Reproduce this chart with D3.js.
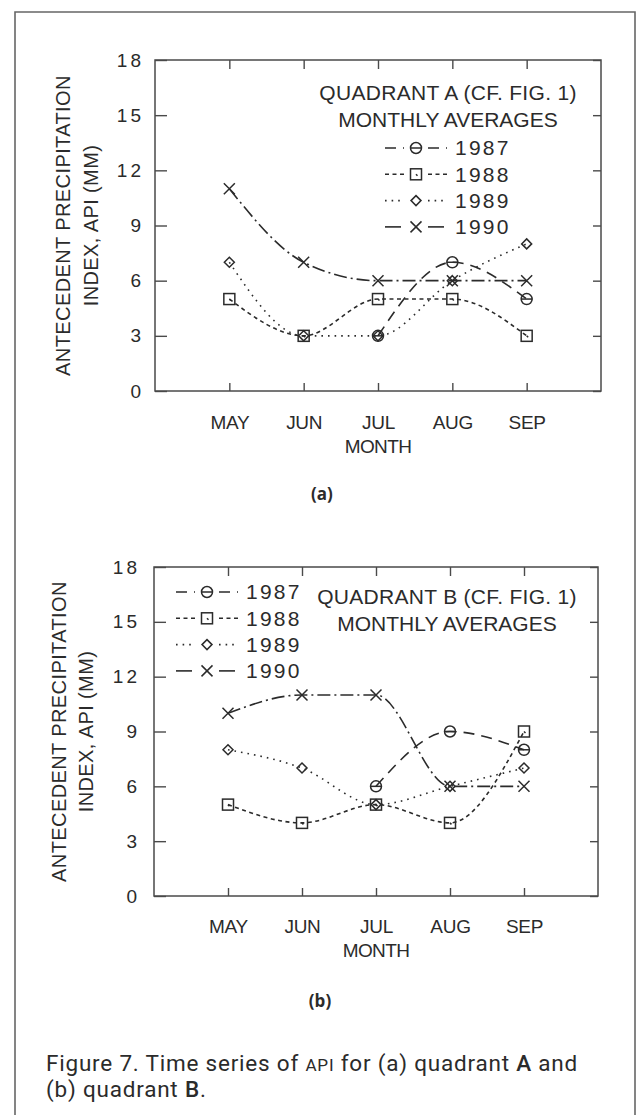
<!DOCTYPE html>
<html lang="en">
<head>
<meta charset="UTF-8">
<title>Figure 7</title>
<script src="https://d3js.org/d3.v7.min.js"></script>
<style>
  body { margin: 0; background: #fff; }
  text { fill: #2b2b2b; }
</style>
</head>
<body>
<script>

// data
var months = ['MAY', 'JUN', 'JUL', 'AUG', 'SEP'];
var years = ['1987', '1988', '1989', '1990'];
var yTicks = [0, 3, 6, 9, 12, 15, 18];

var quadA1987 = [null, null, 3, 7, 5];
var quadA1988 = [5, 3, 5, 5, 3];
var quadA1989 = [7, 3, 3, 6, 8];
var quadA1990 = [11, 7, 6, 6, 6];

var quadB1987 = [null, null, 6, 9, 8];
var quadB1988 = [5, 4, 5, 4, 9];
var quadB1989 = [8, 7, 5, 6, 7];
var quadB1990 = [10, 11, 11, 6, 6];

var ink = '#2b2b2b';
var axisInk = '#4a4a4a';
var font = '"Liberation Sans", Arial, sans-serif';

// dash pattern and marker for each year
var styles = {
    '1987': { dash: '11,7', marker: 'circle' },
    '1988': { dash: '4,3.5', marker: 'square' },
    '1989': { dash: '1.6,5', marker: 'diamond' },
    '1990': { dash: '13,4,2,4', marker: 'cross' }
};

var svg = d3.select('body').append('svg')
    .attr('width', 640)
    .attr('height', 1115);

// page frame (no bottom edge visible)
svg.append('path')
    .attr('d', 'M15,1118 L15,12 L635,12 L635,1118')
    .attr('fill', 'none')
    .attr('stroke', '#666')
    .attr('stroke-width', 1.6);

function drawMarker(g, type) {
    if (type === 'circle') {
        g.append('circle').attr('r', 5.5);
        g.append('line').attr('x1', -5.5).attr('x2', 5.5);
    } else if (type === 'square') {
        g.append('rect').attr('x', -5.5).attr('y', -5.5).attr('width', 11).attr('height', 11);
        g.append('line').attr('x1', 0).attr('x2', 1.5).attr('y1', 0).attr('y2', 1.5);
    } else if (type === 'diamond') {
        g.append('path').attr('d', 'M0,-5 L5,0 L0,5 L-5,0 Z');
    } else {
        g.append('path').attr('d', 'M-5.5,-5.5 L5.5,5.5 M-5.5,5.5 L5.5,-5.5');
    }
    g.selectAll('*')
        .attr('fill', 'none')
        .attr('stroke', ink)
        .attr('stroke-width', 1.5);
}

function drawPanel(p) {
    var x = d3.scalePoint().domain(months).range([p.x0, p.x1]).padding(1);
    var y = d3.scaleLinear().domain([0, 18]).range([p.y1, p.y0]);

    var g = svg.append('g');

    // axes with inward ticks
    var left = g.append('g').attr('transform', 'translate(' + p.x0 + ',0)')
        .call(d3.axisLeft(y).tickValues(yTicks).tickSizeInner(-12).tickSizeOuter(0).tickPadding(p.tickPad));
    g.append('g').attr('transform', 'translate(' + p.x1 + ',0)')
        .call(d3.axisRight(y).tickValues(yTicks).tickSizeInner(-8).tickSizeOuter(0).tickFormat(''));
    g.append('g').attr('transform', 'translate(0,' + p.y0 + ')')
        .call(d3.axisTop(x).tickSizeInner(-9).tickSizeOuter(0).tickFormat(''));
    var bottom = g.append('g').attr('transform', 'translate(0,' + p.y1 + ')')
        .call(d3.axisBottom(x).tickSizeInner(-8).tickSizeOuter(0));

    g.selectAll('.domain').remove();
    g.selectAll('.tick line').attr('stroke', axisInk).attr('stroke-width', 1.4);

    left.selectAll('text')
        .attr('font-family', font)
        .attr('font-size', 19)
        .attr('letter-spacing', 3)
        .attr('fill', ink);

    bottom.selectAll('text')
        .attr('y', p.monthY - p.y1)
        .attr('dy', '0.35em')
        .attr('font-family', font)
        .attr('font-size', 19)
        .attr('letter-spacing', -0.3)
        .attr('fill', ink);

    g.append('rect')
        .attr('x', p.x0).attr('y', p.y0)
        .attr('width', p.x1 - p.x0).attr('height', p.y1 - p.y0)
        .attr('fill', 'none')
        .attr('stroke', axisInk)
        .attr('stroke-width', 1.5);

    g.append('text')
        .attr('x', x('JUL')).attr('y', p.monthY + 24).attr('dy', '0.35em')
        .attr('text-anchor', 'middle')
        .attr('font-family', font).attr('font-size', 19).attr('letter-spacing', -0.6)
        .text('MONTH');

    // y title, two rotated lines
    [['ANTECEDENT PRECIPITATION', p.yt1], ['INDEX, API (MM)', p.yt2]].forEach(function (t) {
        g.append('text')
            .attr('transform', 'translate(' + t[1] + ',' + (p.y0 + p.y1) / 2 + ') rotate(-90)')
            .attr('text-anchor', 'middle')
            .attr('dy', '0.35em')
            .attr('font-family', font).attr('font-size', 20).attr('letter-spacing', 0.4)
            .text(t[0]);
    });

    // series
    var line = d3.line()
        .defined(function (d) { return d.v !== null; })
        .x(function (d) { return x(d.m); })
        .y(function (d) { return y(d.v); })
        .curve(d3.curveMonotoneX);

    p.series.forEach(function (vals, i) {
        var yr = years[i];
        var pts = months.map(function (m, j) { return { m: m, v: vals[j] }; });
        g.append('path')
            .attr('d', line(pts))
            .attr('fill', 'none')
            .attr('stroke', ink)
            .attr('stroke-width', 1.6)
            .attr('stroke-dasharray', styles[yr].dash);
        pts.filter(function (d) { return d.v !== null; }).forEach(function (d) {
            var mg = g.append('g').attr('transform', 'translate(' + x(d.m) + ',' + y(d.v) + ')');
            drawMarker(mg, styles[yr].marker);
        });
    });

    // legend title
    p.title.forEach(function (t, i) {
        g.append('text')
            .attr('x', p.titleX).attr('y', p.titleY + i * 27).attr('dy', '0.35em')
            .attr('text-anchor', 'middle')
            .attr('font-family', font).attr('font-size', 21).attr('letter-spacing', i === 0 ? 0.3 : 0)
            .text(t);
    });

    // legend rows
    years.forEach(function (yr, i) {
        var ry = p.legY + i * 26.3;
        [[p.legX - 31, p.legX - 12], [p.legX + 12, p.legX + 31]].forEach(function (seg) {
            g.append('line')
                .attr('x1', seg[0]).attr('x2', seg[1])
                .attr('y1', ry).attr('y2', ry)
                .attr('stroke', ink).attr('stroke-width', 1.6)
                .attr('stroke-dasharray', yr === '1990' ? '16,3' : styles[yr].dash);
        });
        var mg = g.append('g').attr('transform', 'translate(' + p.legX + ',' + ry + ')');
        drawMarker(mg, styles[yr].marker);
        g.append('text')
            .attr('x', p.legX + 39).attr('y', ry).attr('dy', '0.35em')
            .attr('font-family', font).attr('font-size', 21).attr('letter-spacing', 2.2)
            .text(yr);
    });

    g.append('text')
        .attr('x', p.tagX).attr('y', p.tagY).attr('dy', '0.35em')
        .attr('text-anchor', 'middle')
        .attr('font-family', '"Open Sans", sans-serif').attr('font-size', 17).attr('font-weight', 700)
        .text(p.tag);
}

drawPanel({
    x0: 155, x1: 601, y0: 60, y1: 391, tickPad: 11,
    yt1: 63, yt2: 91, monthY: 422,
    series: [quadA1987, quadA1988, quadA1989, quadA1990],
    title: ['QUADRANT A (CF. FIG. 1)', 'MONTHLY AVERAGES'],
    titleX: 448, titleY: 93,
    legX: 416, legY: 148,
    tag: '(a)', tagX: 322, tagY: 494
});

drawPanel({
    x0: 154, x1: 598, y0: 567, y1: 896, tickPad: 14,
    yt1: 59, yt2: 86, monthY: 926,
    series: [quadB1987, quadB1988, quadB1989, quadB1990],
    title: ['QUADRANT B (CF. FIG. 1)', 'MONTHLY AVERAGES'],
    titleX: 447, titleY: 597,
    legX: 207, legY: 592,
    tag: '(b)', tagX: 320, tagY: 1001
});

// caption
var capSize = 22.5;
var cap = svg.append('text')
    .attr('font-family', 'Roboto, sans-serif')
    .attr('font-size', capSize)
    .attr('fill', '#333');

var l1 = cap.append('tspan').attr('x', 46).attr('y', 1071);
l1.append('tspan').text('Figure 7. Time series of ');
l1.append('tspan').attr('font-size', capSize * 0.76).text('API');
l1.append('tspan').text(' for (a) quadrant ');
l1.append('tspan').attr('font-weight', 500).text('A');
l1.append('tspan').text(' and');

var l2 = cap.append('tspan').attr('x', 46).attr('y', 1097);
l2.append('tspan').text('(b) quadrant ');
l2.append('tspan').attr('font-weight', 500).text('B');
l2.append('tspan').text('.');

// open the letter spacing so the first line spans the same width as in the print
var w1 = cap.node().getBBox().width;
var nChars = l1.text().length;
cap.attr('letter-spacing', Math.max(0, (532 - w1) / nChars));

</script>
</body>
</html>
